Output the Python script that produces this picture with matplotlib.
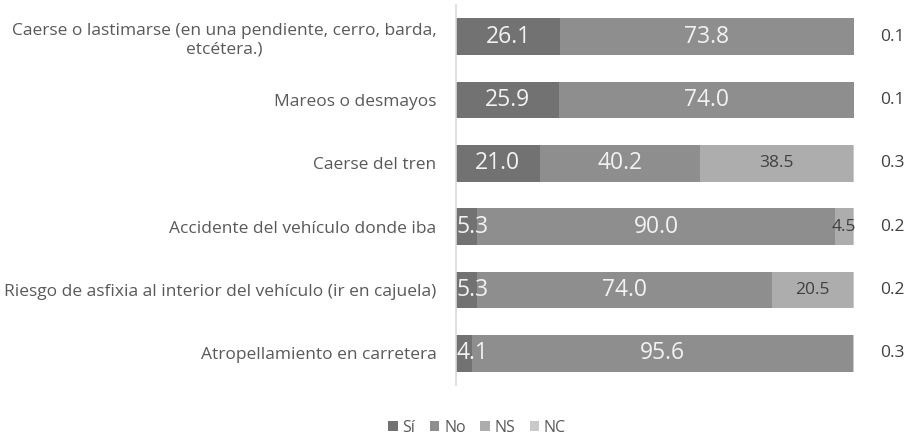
import numpy as np
import matplotlib.pyplot as plt

# data (top to bottom)
categories = [
    "Caerse o lastimarse (en una pendiente, cerro, barda,\netcétera.)",
    "Mareos o desmayos",
    "Caerse del tren",
    "Accidente del vehículo donde iba",
    "Riesgo de asfixia al interior del vehículo (ir en cajuela)",
    "Atropellamiento en carretera",
]
si = [26.1, 25.9, 21.0, 5.3, 5.3, 4.1]
no = [73.8, 74.0, 40.2, 90.0, 74.0, 95.6]
ns = [0.0, 0.0, 38.5, 4.5, 20.5, 0.0]
nc = [0.1, 0.1, 0.3, 0.2, 0.2, 0.3]

series_names = ["Sí", "No", "NS", "NC"]
colors = ["#727272", "#8e8e8e", "#adadad", "#c9c9c9"]
text_colors = ["#f2f2f2", "#f2f2f2", "#404040", "#404040"]

plt.rcParams['font.family'] = ['Open Sans', 'DejaVu Sans']

fig = plt.figure(figsize=(9.15, 4.37), dpi=100)
ax = fig.add_axes([456/915, 1-385/437, 398/915, 380/437])

y = np.arange(len(categories))
left = np.zeros(len(categories))
values = [si, no, ns, nc]
for k, (name, vals, col) in enumerate(zip(series_names, values, colors)):
    vals = np.array(vals)
    ax.barh(y, vals, left=left, height=0.58, color=col, label=name,
            edgecolor='none')
    for i, v in enumerate(vals):
        if k == 3 or v <= 0:
            continue
        lab = f"{v:.1f}"
        if k == 2:
            # NS labels: smaller, dark text
            ax.text(left[i] + v/2, y[i], lab, ha='center', va='center',
                    color=text_colors[k], fontsize=12.5)
        elif k == 0 and v < 10:
            ax.text(left[i] + 0.1, y[i], lab, ha='left', va='center',
                    color=text_colors[k], fontsize=16.5)
        else:
            ax.text(left[i] + v/2, y[i], lab, ha='center', va='center',
                    color=text_colors[k], fontsize=16.5)
    left = left + vals

# NC values shown outside the bars
for i, v in enumerate(nc):
    ax.text(109.6, y[i], f"{v:.1f}", ha='center', va='center',
            color='#404040', fontsize=12.5, clip_on=False)

ax.set_xlim(0, 100)
ax.set_ylim(len(categories) - 0.5, -0.5)
ax.set_yticks(y)
ax.set_yticklabels(categories, fontsize=12.5, color='#595959',
                   multialignment='center')
ax.tick_params(axis='y', length=0, pad=14)
ax.set_xticks([])
for s in ['top', 'right', 'bottom']:
    ax.spines[s].set_visible(False)
ax.spines['left'].set_color('#d9d9d9')
ax.spines['left'].set_linewidth(1.2)

fig.legend(loc='center', bbox_to_anchor=(477/915, 1-428/437), ncol=4,
           frameon=False, fontsize=11.5, handlelength=0.6, handleheight=0.6,
           handletextpad=0.3, columnspacing=0.9, labelcolor='#595959')

fig.savefig("out.png", dpi=100)
